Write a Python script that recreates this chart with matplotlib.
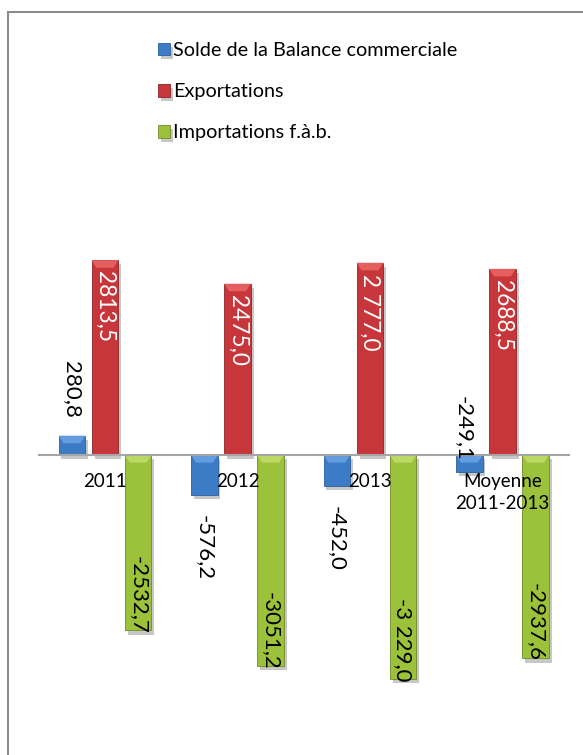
"""
Balance commerciale: solde, exportations et importations (2011-2013).
"""
import matplotlib
matplotlib.use('Agg')
import matplotlib.pyplot as plt
import matplotlib.patheffects as pe
from matplotlib.patches import Rectangle, Polygon
import numpy as np

categories = ["2011", "2012", "2013", "Moyenne\n2011-2013"]
solde = [280.8, -576.2, -452.0, -249.1]
exportations = [2813.5, 2475.0, 2777.0, 2688.5]
importations = [-2532.7, -3051.2, -3229.0, -2937.6]

solde_labels = ["280,8", "-576,2", "-452,0", "-249,1"]
export_labels = ["2813,5", "2475,0", "2 777,0", "2688,5"]
import_labels = ["-2532,7", "-3051,2", "-3 229,0", "-2937,6"]

series_names = ["Solde de la Balance commerciale", "Exportations", "Importations f.à.b."]

plt.rcParams['font.family'] = ['Lato', 'DejaVu Sans']

W, H = 583, 755
fig = plt.figure(figsize=(W / 100, H / 100), dpi=100)
ax = fig.add_axes([38.75 / W, 23 / H, 530 / W, 554 / H])

x = np.arange(len(categories))
bw = 0.2
off = 0.25
colors = ['#3C7BC6', '#C6363A', '#9CC13B']
tops = ['#6FA6E6', '#EE6A6A', '#C3E070']
edges = ['#2E5F9C', '#8E2426', '#6F8C26']

shadow = [pe.SimplePatchShadow(offset=(2, -3), shadow_rgbFace='#000000', alpha=0.22), pe.Normal()]

groups = []
for k, vals in enumerate([solde, exportations, importations]):
    bars = ax.bar(x + (k - 1) * off, vals, width=bw, color=colors[k], edgecolor=edges[k],
                  linewidth=0.6, label=series_names[k], zorder=2)
    for b in bars:
        b.set_path_effects(shadow)
    groups.append(bars)

# bevel highlight on the upper edge of every bar
bevel = 110
for k, bars in enumerate(groups):
    for b in bars:
        x0, w = b.get_x(), b.get_width()
        ytop = max(b.get_y(), b.get_y() + b.get_height())
        tri = Polygon([[x0, ytop], [x0 + w, ytop], [x0 + w * 0.82, ytop - bevel],
                       [x0 + w * 0.18, ytop - bevel]], closed=True,
                      facecolor=tops[k], edgecolor='none', alpha=0.8, zorder=3)
        ax.add_patch(tri)

ax.set_xlim(-0.5, len(categories) - 0.5)
ax.set_ylim(-4000, 4000)

# data labels
for b, v, lab in zip(groups[0], solde, solde_labels):
    cx = b.get_x() + b.get_width() / 2
    if lab == "-249,1":
        ax.annotate(lab, (cx, 0), xytext=(-6, -6), textcoords='offset pixels',
                    rotation=270, ha='center', va='bottom', fontsize=16, zorder=5)
    elif v >= 0:
        ax.annotate(lab, (cx, v), xytext=(0, 18), textcoords='offset pixels',
                    rotation=270, ha='center', va='bottom', fontsize=16, zorder=5)
    else:
        ax.annotate(lab, (cx, v), xytext=(0, -20), textcoords='offset pixels',
                    rotation=270, ha='center', va='top', fontsize=16, zorder=5)

for b, v, lab in zip(groups[1], exportations, export_labels):
    cx = b.get_x() + b.get_width() / 2
    ax.annotate(lab, (cx, v), xytext=(0, -11), textcoords='offset pixels',
                rotation=270, ha='center', va='top', fontsize=16.3, color='white', zorder=5)

for b, v, lab in zip(groups[2], importations, import_labels):
    cx = b.get_x() + b.get_width() / 2
    ax.annotate(lab, (cx, v), xytext=(0, -3), textcoords='offset pixels',
                rotation=270, ha='center', va='bottom', fontsize=16, zorder=5)

# axis through zero
for s in ['left', 'right', 'top']:
    ax.spines[s].set_visible(False)
ax.spines['bottom'].set_position(('data', 0))
ax.spines['bottom'].set_color('#A6A6A6')
ax.spines['bottom'].set_linewidth(1.5)
ax.spines['bottom'].set_zorder(4)
ax.set_yticks([])
ax.set_xticks(x)
ax.set_xticklabels(categories, fontsize=13.5, linespacing=1.35)
ax.tick_params(axis='x', length=0, pad=13)
ax.xaxis.set_zorder(6)
ax.patch.set_visible(False)

fig.legend(handles=groups, labels=series_names, loc='upper left',
           bbox_to_anchor=(158 / W, 1 - 42 / H), frameon=False, fontsize=14.3,
           handlelength=0.6, handleheight=0.6, handletextpad=0.15,
           labelspacing=1.22, borderpad=0, borderaxespad=0)

# chart frame (left and top edges visible)
fig.patches.append(Rectangle((8 / W, -0.2), 2, 1.2 - 12 / H, transform=fig.transFigure,
                             fill=False, edgecolor='#8C8C8C', linewidth=1.5))

fig.savefig("out.png", dpi=100)
